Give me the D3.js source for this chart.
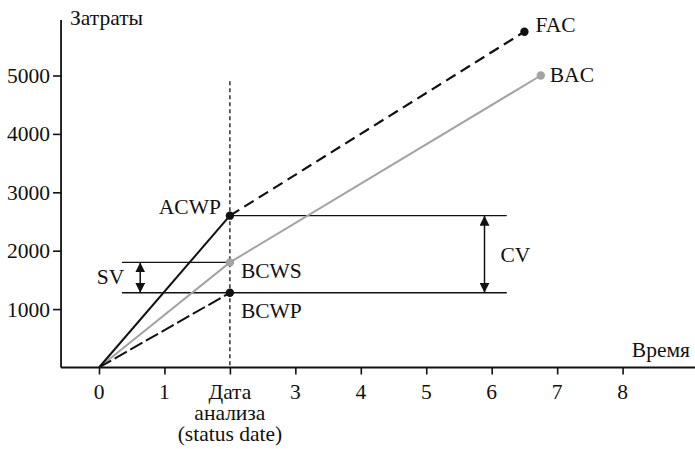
<!DOCTYPE html>
<html>
<head>
<meta charset="utf-8">
<script src="https://cdn.jsdelivr.net/npm/d3@7"></script>
<style>
  body { margin: 0; background: #fff; }
  svg text { font-family: "Liberation Serif", "Times New Roman", serif; font-size: 21.5px; fill: #111; }
</style>
</head>
<body>
<script>
// earned value chart: ACWP / BCWS / BCWP at the status date

var xTicks = [0, 1, 2, 3, 4, 5, 6, 7, 8];
var yTicks = [1000, 2000, 3000, 4000, 5000];
var statusDate = 2;
var statusLabel = ['Дата', 'анализа', '(status date)'];

// series points [time, cost]
var acwp = [[0, 0], [2, 2600]];
var fac = [[2, 2600], [6.5, 5750]];
var bcws = [[0, 0], [2, 1800], [6.75, 5000]];
var bcwp = [[0, 0], [2, 1280]];

// guide lines and variances
var guideAcwp = [[2, 2600], [6.23, 2600]];
var guideBcws = [[0.35, 1800], [2, 1800]];
var guideBcwp = [[0.35, 1280], [6.23, 1280]];
var svArrow = [[0.63, 1800], [0.63, 1280]];
var cvArrow = [[5.89, 2600], [5.89, 1280]];
var statusLineTop = 4900;

var xExtent = [-0.58, 9.5];
var yTop = 5950;

var width = 695, height = 449;
var svg = d3.select('body').append('svg')
    .attr('width', width).attr('height', height);

var x = d3.scaleLinear().domain([0, 8]).range([99, 622.6]);
var y = d3.scaleLinear().domain([0, 5000]).range([367.5, 75.5]);

var line = d3.line().x(function(d){ return x(d[0]); }).y(function(d){ return y(d[1]); });

var defs = svg.append('defs');
['start', 'end'].forEach(function(k){
    defs.append('marker')
        .attr('id', 'arrow-' + k)
        .attr('viewBox', '0 0 10 10')
        .attr('refX', 10).attr('refY', 5)
        .attr('markerWidth', 10).attr('markerHeight', 10)
        .attr('markerUnits', 'userSpaceOnUse')
        .attr('orient', k == 'start' ? 'auto-start-reverse' : 'auto')
        .append('path').attr('d', 'M0,0 L10,5 L0,10 Z').attr('fill', '#111');
});

// axes
var xAxis = svg.append('g').attr('transform', 'translate(0,' + y(0) + ')')
    .call(d3.axisBottom(x).tickValues(xTicks).tickSize(7).tickSizeOuter(0).tickFormat(''));
xAxis.select('.domain').remove();
xAxis.selectAll('line').attr('stroke', '#111').attr('stroke-width', 1.6);
svg.append('line')
    .attr('x1', x(xExtent[0])).attr('x2', x(xExtent[1]))
    .attr('y1', y(0)).attr('y2', y(0))
    .attr('stroke', '#111').attr('stroke-width', 1.8);

svg.selectAll('.xlab').data(xTicks.filter(function(d){ return d != statusDate; }))
    .enter().append('text')
    .attr('x', function(d){ return x(d); })
    .attr('y', y(0) + 31.5)
    .attr('text-anchor', 'middle')
    .text(function(d){ return d; });

// status date label, three lines in one text
var statusText = svg.append('text')
    .attr('x', x(statusDate))
    .attr('y', y(0) + 31)
    .attr('text-anchor', 'middle');
statusText.selectAll('tspan').data(statusLabel).enter().append('tspan')
    .attr('x', x(statusDate))
    .attr('dy', function(d, i){ return i == 0 ? 0 : 21; })
    .text(function(d){ return d; });

var yAxis = svg.append('g').attr('transform', 'translate(' + x(xExtent[0]) + ',0)')
    .call(d3.axisLeft(y).tickValues(yTicks).tickSize(8).tickSizeOuter(0).tickFormat(''));
yAxis.select('.domain').remove();
yAxis.selectAll('line').attr('stroke', '#111').attr('stroke-width', 1.6);
svg.append('line')
    .attr('x1', x(xExtent[0])).attr('x2', x(xExtent[0]))
    .attr('y1', y(0)).attr('y2', y(yTop))
    .attr('stroke', '#111').attr('stroke-width', 1.8);

svg.selectAll('.ylab').data(yTicks).enter().append('text')
    .attr('x', x(xExtent[0]) - 11)
    .attr('y', function(d){ return y(d); })
    .attr('dy', '0.35em')
    .attr('text-anchor', 'end')
    .text(function(d){ return d; });

svg.append('text').attr('x', 70).attr('y', 25).text('Затраты');
svg.append('text').attr('x', 690).attr('y', 357).attr('text-anchor', 'end').text('Время');

// status date line
svg.append('line')
    .attr('x1', x(statusDate)).attr('x2', x(statusDate))
    .attr('y1', y(statusLineTop)).attr('y2', y(0))
    .attr('stroke', '#111').attr('stroke-width', 1.3)
    .attr('stroke-dasharray', '4,3');

// guides
[guideAcwp, guideBcws, guideBcwp].forEach(function(g){
    svg.append('path').attr('d', line(g))
        .attr('fill', 'none').attr('stroke', '#111').attr('stroke-width', 1.3);
});

// variance arrows
[svArrow, cvArrow].forEach(function(a){
    svg.append('path').attr('d', line(a))
        .attr('fill', 'none').attr('stroke', '#111').attr('stroke-width', 1.5)
        .attr('marker-start', 'url(#arrow-start)')
        .attr('marker-end', 'url(#arrow-end)');
});

// series
svg.append('path').attr('d', line(bcws))
    .attr('fill', 'none').attr('stroke', '#a3a3a3').attr('stroke-width', 2);
svg.append('path').attr('d', line(acwp))
    .attr('fill', 'none').attr('stroke', '#111').attr('stroke-width', 2);
svg.append('path').attr('d', line(fac))
    .attr('fill', 'none').attr('stroke', '#111').attr('stroke-width', 2.2)
    .attr('stroke-dasharray', '11,6');
svg.append('path').attr('d', line(bcwp))
    .attr('fill', 'none').attr('stroke', '#111').attr('stroke-width', 2)
    .attr('stroke-dasharray', '14,4');

// points
var pts = [
    {p: acwp[1], c: '#111'},
    {p: fac[1], c: '#111'},
    {p: bcws[1], c: '#a3a3a3'},
    {p: bcws[2], c: '#a3a3a3'},
    {p: bcwp[1], c: '#111'}
];
svg.selectAll('.pt').data(pts).enter().append('circle')
    .attr('cx', function(d){ return x(d.p[0]); })
    .attr('cy', function(d){ return y(d.p[1]); })
    .attr('r', 4.2)
    .attr('fill', function(d){ return d.c; });

// labels
var labels = [
    {t: 'ACWP', p: acwp[1], dx: -9, dy: -2, a: 'end'},
    {t: 'FAC', p: fac[1], dx: 11, dy: 0, a: 'start'},
    {t: 'BAC', p: bcws[2], dx: 9, dy: 6, a: 'start'},
    {t: 'BCWS', p: bcws[1], dx: 11, dy: 16, a: 'start'},
    {t: 'BCWP', p: bcwp[1], dx: 11, dy: 25, a: 'start'},
    {t: 'SV', p: svArrow[0], dx: -16, dy: 22, a: 'end'},
    {t: 'CV', p: cvArrow[0], dx: 16, dy: 46, a: 'start'}
];
svg.selectAll('.lab').data(labels).enter().append('text')
    .attr('x', function(d){ return x(d.p[0]) + d.dx; })
    .attr('y', function(d){ return y(d.p[1]) + d.dy; })
    .attr('text-anchor', function(d){ return d.a; })
    .text(function(d){ return d.t; });
</script>
</body>
</html>
